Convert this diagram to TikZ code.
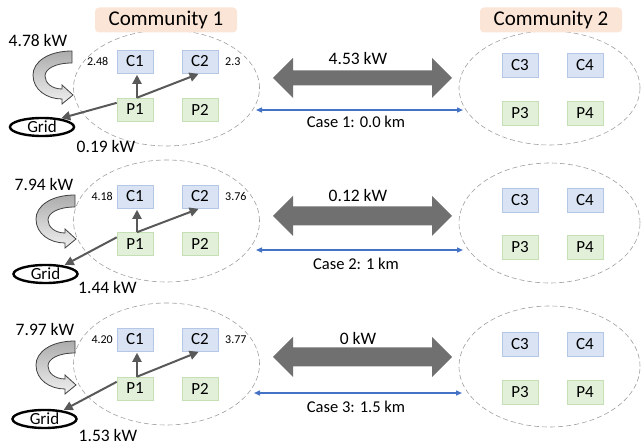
\documentclass[tikz,border=0pt]{standalone}
\usepackage{fontspec}
\setmainfont{Carlito}
\usetikzlibrary{shapes.geometric,arrows.meta}
\definecolor{cfill}{HTML}{DAE3F3}
\definecolor{cline}{HTML}{B4C7E7}
\definecolor{pfill}{HTML}{E2F0D9}
\definecolor{pline}{HTML}{C5E0B4}
\definecolor{commfill}{HTML}{FBE5D6}
\definecolor{flowcol}{HTML}{595959}
\definecolor{bigcol}{HTML}{707070}
\definecolor{bluecol}{HTML}{4472C4}
\newcommand\myfs[1]{\fontsize{#1}{#1}\selectfont}
\begin{document}
\begin{tikzpicture}[x=1pt,y=-1pt,
  cbox/.style={rectangle,fill=cfill,draw=cline,line width=0.6pt,minimum width=36pt,minimum height=23pt,inner sep=0pt,font=\myfs{17}},
  pbox/.style={rectangle,fill=pfill,draw=pline,line width=0.6pt,minimum width=36pt,minimum height=23pt,inner sep=0pt,font=\myfs{17}},
  commbox/.style={rectangle,fill=commfill,rounded corners=4pt,minimum width=142pt,minimum height=25pt,inner sep=0pt,font=\myfs{21}},
  commell/.style={ellipse,draw=gray!75,dash pattern=on 5pt off 3pt,line width=0.6pt,inner sep=0pt},
  flow/.style={-{Triangle[length=9pt,width=9pt]},draw=flowcol,line width=2pt},
  gridnode/.style={ellipse,draw=black,line width=2.4pt,minimum width=64pt,minimum height=18pt,inner sep=0pt,font=\myfs{17}},
  lbl/.style={inner sep=0pt,font=\myfs{17.5}},
  caselbl/.style={inner sep=0pt,font=\myfs{16.5}},
  small/.style={inner sep=0pt,font=\myfs{12}},
  bluearr/.style={{Triangle[length=6pt,width=5pt]}-{Triangle[length=6pt,width=5pt]},draw=bluecol,line width=1.4pt},
  bigarr/.style={fill=bigcol},
  curvarr/.style={top color=gray!65,bottom color=gray!12,draw=black!75,line width=0.8pt}
]
\useasboundingbox (0,0) rectangle (641,446);

% ---------- left communities ----------
\foreach \r/\ey/\ery/\cy/\py/\nlx/\nl/\nr in
  {1/88/58/61.5/109.5/108.5/2.48/2.3,
   2/221/61/196.5/244/113/4.18/3.76,
   3/364/61/339.5/388.5/113/4.20/3.77}{
  \node[commell,minimum width=186pt,minimum height={2*\ery}] (E1-\r) at (166.5,\ey) {};
  \node[cbox] (C1-\r) at (135,\cy) {C1};
  \node[cbox] (C2-\r) at (200,\cy) {C2};
  \node[pbox] (P1-\r) at (135,\py) {P1};
  \node[pbox] (P2-\r) at (200,\py) {P2};
  \node[small,anchor=east] (NL-\r) at (\nlx,\cy) {\nl};
  \node[small,anchor=west] (NR-\r) at (225,\cy) {\nr};
  \draw[flow,shorten >=1.5pt] ([xshift=2pt]P1-\r.north) -- ([xshift=2pt]C1-\r.south);
  \draw[flow,shorten >=1.5pt] ([xshift=2pt]P1-\r.north) -- (C2-\r.south);
}

% ---------- inputs and grid ----------
\foreach \r/\ox/\oy/\kinx/\kiny/\kin/\gx/\gy/\kg/\kgx/\kgy in
  {1/0/0/38/40/4.78 kW/42/127/0.19 kW/106/146,
   2/3/144/44/184/7.94 kW/45.5/274/1.44 kW/107.5/287,
   3/3/290/45/329/7.97 kW/44.5/419/1.53 kW/108/435}{
  \begin{scope}[shift={(\ox,\oy)}]
    \path[curvarr] (72,51) .. controls (48,51) and (33,62) .. (33,75)
      .. controls (33,90) and (47,99) .. (62,99) -- (62,104) -- (73,95)
      -- (62,85) -- (62,89) .. controls (52,89) and (45,83) .. (45,76)
      .. controls (45,69) and (55,63) .. (72,63) -- cycle;
  \end{scope}
  \node[lbl] (KIN-\r) at (\kinx,\kiny) {\kin};
  \node[gridnode] (G-\r) at (\gx,\gy) {Grid};
  \node[lbl] (KG-\r) at (\kgx,\kgy) {\kg};
  \draw[flow,shorten >=1pt] (P1-\r.160) -- (G-\r.25);
}

% ---------- exchange between communities ----------
\foreach \r/\ay/\sh/\kx/\kxy/\by/\bl/\br/\case/\casey in
  {1/78/7.5/4.53 kW/58/110/256/463/Case 1: 0.0 km/122,
   2/216/9.5/0.12 kW/195/250/256/463/Case 2: 1 km/264,
   3/357/9.5/0 kW/338/393/254/462/Case 3: 1.5 km/407}{
  \coordinate (AL-\r) at (273,\ay);
  \coordinate (AR-\r) at (452,\ay);
  \fill[bigarr] (AL-\r) -- (293,{\ay-20}) -- (293,{\ay-\sh}) -- (432,{\ay-\sh})
     -- (432,{\ay-20}) -- (AR-\r) -- (432,{\ay+20}) -- (432,{\ay+\sh})
     -- (293,{\ay+\sh}) -- (293,{\ay+20}) -- cycle;
  \node[lbl] (KX-\r) at (358,\kxy) {\kx};
  \coordinate (BL-\r) at (\bl,\by);
  \coordinate (BR-\r) at (\br,\by);
  \draw[bluearr] (BL-\r) -- (BR-\r);
  \node[caselbl] (CASE-\r) at (356,\casey) {\case};
}

% ---------- right communities ----------
\foreach \r/\ey/\ery/\cy/\py in
  {1/88/57/65/113,
   2/223/60/200/247.5,
   3/366.5/60.5/344.5/392.5}{
  \node[commell,minimum width=181pt,minimum height={2*\ery}] (E2-\r) at (549.5,\ey) {};
  \node[cbox,minimum height=24pt] (C3-\r) at (520,\cy) {C3};
  \node[cbox,minimum height=24pt] (C4-\r) at (585,\cy) {C4};
  \node[pbox,minimum height=24pt] (P3-\r) at (520,\py) {P3};
  \node[pbox,minimum height=24pt] (P4-\r) at (585,\py) {P4};
}

% ---------- community titles ----------
\node[commbox] (COM1) at (166,20) {Community 1};
\node[commbox] (COM2) at (551,20) {Community 2};
\end{tikzpicture}
\end{document}
